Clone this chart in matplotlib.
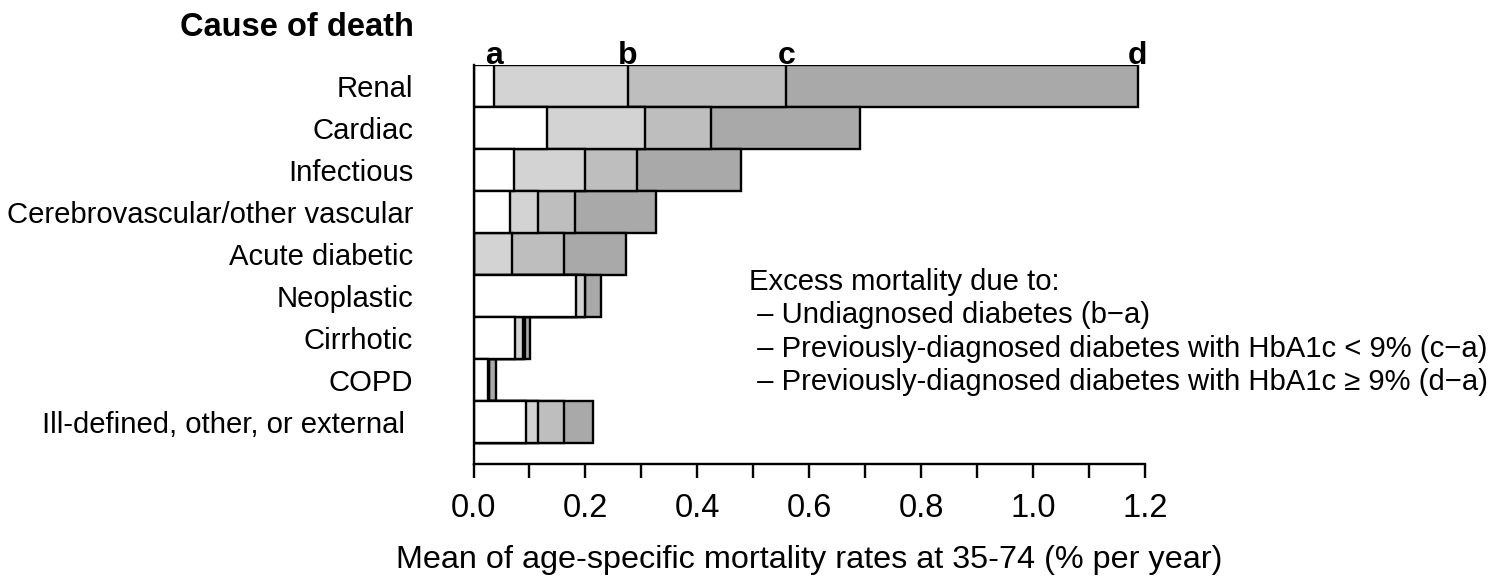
import numpy as np
import matplotlib
matplotlib.use('Agg')
import matplotlib.pyplot as plt

plt.rcParams['font.family'] = ['Liberation Sans', 'DejaVu Sans']

# Mean age-specific mortality (% per year), one entry per cause
causes = ["Renal", "Cardiac", "Infectious", "Cerebrovascular/other vascular",
          "Acute diabetic", "Neoplastic", "Cirrhotic", "COPD",
          "Ill-defined, other, or external "]
rate_a = [0.036, 0.131, 0.073, 0.065, 0.000, 0.184, 0.074, 0.026, 0.093]
rate_b = [0.276, 0.307, 0.200, 0.115, 0.068, 0.200, 0.089, 0.027, 0.115]
rate_c = [0.559, 0.424, 0.293, 0.181, 0.162, 0.200, 0.092, 0.028, 0.162]
rate_d = [1.187, 0.691, 0.478, 0.327, 0.272, 0.227, 0.101, 0.040, 0.213]
group_letters = ["a", "b", "c", "d"]

major_ticks = [0.0, 0.2, 0.4, 0.6, 0.8, 1.0, 1.2]
major_labels = ["0.0", "0.2", "0.4", "0.6", "0.8", "1.0", "1.2"]
minor_ticks = [0.1, 0.3, 0.5, 0.7, 0.9, 1.1]

legend_lines = ["Excess mortality due to:",
                " \u2013 Undiagnosed diabetes (b\u2212a)",
                " \u2013 Previously-diagnosed diabetes with HbA1c < 9% (c\u2212a)",
                " \u2013 Previously-diagnosed diabetes with HbA1c \u2265 9% (d\u2212a)"]

W, H = 1504, 579
fig = plt.figure(figsize=(W / 100, H / 100), dpi=100)
ax = fig.add_axes([473.5 / W, (H - 464) / H, (1145 - 473.5) / W, (464 - 65) / H])

y = np.arange(len(causes))
lw = 1.7
# widest first so each shorter bar sits on top of the longer one
for vals, col in [(rate_d, '#A9A9A9'), (rate_c, '#BEBEBE'),
                  (rate_b, '#D3D3D3'), (rate_a, 'white')]:
    ax.barh(y, vals, height=1.0, left=0, color=col, edgecolor='black',
            linewidth=lw, zorder=2)

ax.set_xlim(0, 1.2)
ax.set_ylim(9.0, -0.5)

for s in ['top', 'right']:
    ax.spines[s].set_visible(False)
for s in ['left', 'bottom']:
    ax.spines[s].set_linewidth(lw)

ax.set_yticks(y)
ax.set_yticklabels(causes, fontsize=21.1)
ax.tick_params(axis='y', length=0, pad=43.5)

ax.set_xticks(major_ticks)
ax.set_xticklabels(major_labels, fontsize=23.5)
ax.set_xticks(minor_ticks, minor=True)
ax.tick_params(axis='x', which='both', length=10, width=lw, direction='out', pad=11)

ax.set_xlabel("Mean of age-specific mortality rates at 35-74 (% per year)",
              fontsize=23.3, labelpad=15)

# a/b/c/d markers above the top bar
for letter, v in zip(group_letters, [rate_a[0], rate_b[0], rate_c[0], rate_d[0]]):
    ax.annotate(letter, xy=(v, -0.5), xytext=(0, 1.0), textcoords='offset points',
                ha='center', va='baseline', fontsize=23, fontweight='bold',
                annotation_clip=False)

fig.text(414 / W, 1 - 36 / H, "Cause of death", ha='right', va='baseline',
         fontsize=23.5, fontweight='bold')

baselines = [290, 323, 357, 390]
for line, b in zip(legend_lines, baselines):
    fig.text(749 / W, 1 - b / H, line, ha='left', va='baseline', fontsize=21.1)

fig.savefig('out.png', dpi=100)
